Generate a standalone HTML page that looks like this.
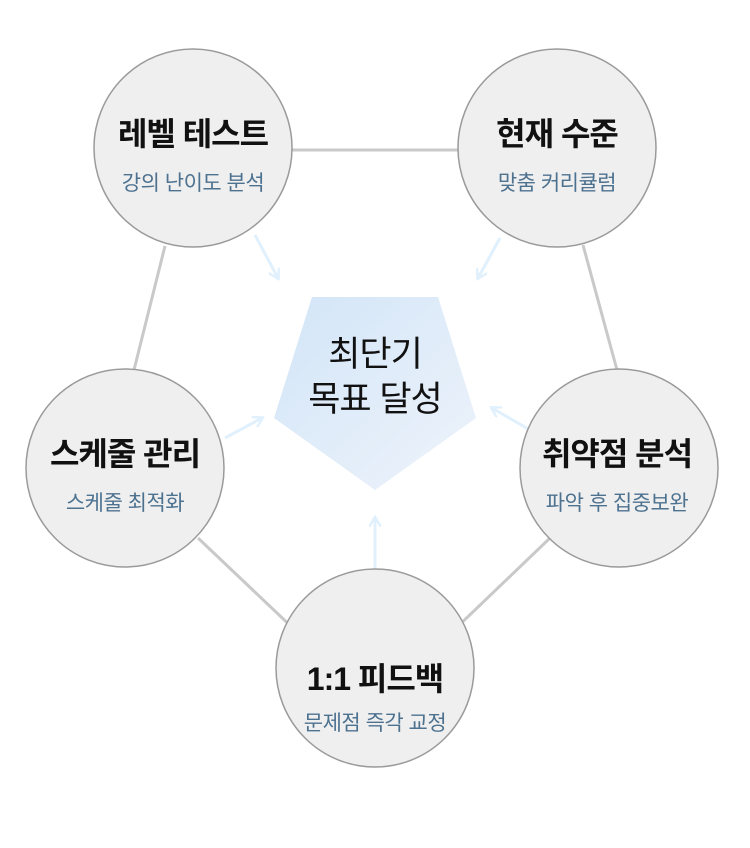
<!DOCTYPE html>
<html><head><meta charset="utf-8"><style>
body{margin:0;background:#fff;}
svg text{font-family:"Liberation Sans","Noto Sans CJK KR",sans-serif;text-anchor:middle;}
.t{font-size:32px;font-weight:bold;fill:#111;letter-spacing:-1px;}
.s{font-size:21px;fill:#4d7290;letter-spacing:-0.5px;}
</style></head><body>
<svg width="750" height="843" viewBox="0 0 750 843" xmlns="http://www.w3.org/2000/svg">
<defs>
<linearGradient id="g" x1="0" y1="0" x2="1" y2="1"><stop offset="0" stop-color="#d2e5f8"/><stop offset="1" stop-color="#eef3fa"/></linearGradient>
<marker id="a" markerWidth="12" markerHeight="12" refX="9" refY="6" orient="auto" markerUnits="userSpaceOnUse"><path d="M0,0 L10,6 L0,12" fill="none" stroke="#e0f0fc" stroke-width="2.5"/></marker>
</defs>
<g stroke="#c9c9c9" stroke-width="3">
<line x1="292" y1="150" x2="458" y2="150"/>
<line x1="165" y1="246" x2="134" y2="370"/>
<line x1="583" y1="245" x2="617" y2="370"/>
<line x1="198" y1="538" x2="297" y2="632"/>
<line x1="550" y1="538" x2="452" y2="632"/>
</g>
<g stroke="#e0f0fc" stroke-width="3" marker-end="url(#a)">
<line x1="255" y1="235" x2="278" y2="278"/>
<line x1="500" y1="238" x2="478" y2="278"/>
<line x1="225" y1="438" x2="262" y2="418"/>
<line x1="530" y1="430" x2="492" y2="408"/>
<line x1="375" y1="592" x2="375" y2="518"/>
</g>
<polygon points="312,297 438,297 476,418 375,490 274,418" fill="url(#g)"/>
<text x="375" y="366" style="font-size:35px;fill:#111;letter-spacing:-1px">최단기</text>
<text x="375" y="411" style="font-size:35px;fill:#111;letter-spacing:-1px">목표 달성</text>
<g fill="#efefef" stroke="#9a9a9a" stroke-width="1.5">
<circle cx="193" cy="148" r="99"/>
<circle cx="557" cy="148" r="99"/>
<circle cx="125" cy="468" r="99"/>
<circle cx="619" cy="468" r="99"/>
<circle cx="375" cy="668" r="99"/>
</g>
<text class="t" x="193" y="145">레벨 테스트</text><text class="s" x="193" y="190">강의 난이도 분석</text>
<text class="t" x="557" y="145">현재 수준</text><text class="s" x="557" y="190">맞춤 커리큘럼</text>
<text class="t" x="125" y="465">스케줄 관리</text><text class="s" x="125" y="510">스케줄 최적화</text>
<text class="t" x="617" y="465">취약점 분석</text><text class="s" x="617" y="510">파악 후 집중보완</text>
<text class="t" x="375" y="690">1:1 피드백</text><text class="s" x="375" y="730">문제점 즉각 교정</text>
</svg>
</body></html>
